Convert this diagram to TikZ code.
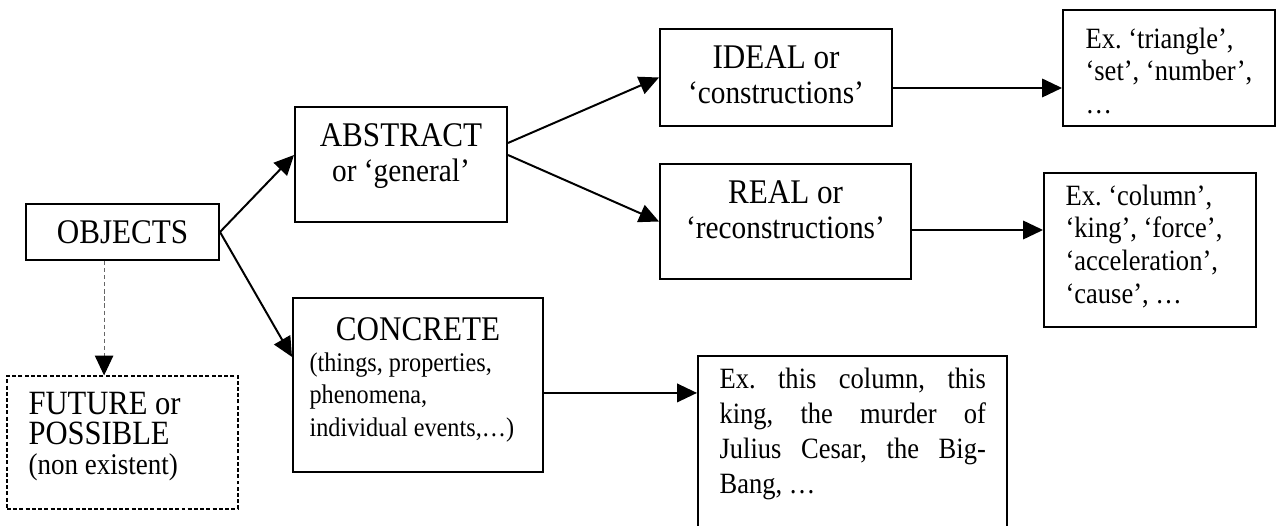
\documentclass[tikz,border=0pt]{standalone}
\usepackage{fontspec}
\setmainfont{Liberation Serif}[FakeStretch=0.9]
\usetikzlibrary{arrows.meta,fit}

\newcommand\bigtxt{\fontsize{12.2}{12.5}\selectfont}
\newcommand\subtxt{\fontsize{11.5}{12.5}\selectfont}
\newcommand\extxt{\fontsize{10.4}{11.6}\selectfont}
\newcommand\smalltxt{\fontsize{9.5}{11.5}\selectfont}
\frenchspacing

\tikzset{
  box/.style={draw, line width=0.7pt, inner sep=0pt},
  dashbox/.style={draw, line width=0.4pt, dash pattern=on 1.4pt off 0.8pt, inner sep=0pt},
  txt/.style={inner sep=0pt},
  arr/.style={line width=0.7pt, -{Triangle[length=7pt,width=6.5pt]}},
  dasharr/.style={line width=0.4pt, draw=black!60, dash pattern=on 1.5pt off 1pt,
    -{Triangle[length=7pt,width=6.5pt,black]}}
}

\begin{document}
\begin{tikzpicture}[x=0.353pt, y=-0.353pt]
\useasboundingbox (0,0) rectangle (1277,525);

% boxes
\node[box, fit={(26,204) (219,260)}] (obj) {};
\node[box, fit={(295,107) (507,222)}] (abs) {};
\node[box, fit={(293,298) (543,472)}] (conc) {};
\node[box, fit={(660,29) (892,126)}] (ideal) {};
\node[box, fit={(660,164) (911,279)}] (real) {};
\node[box, fit={(1063,10) (1275,126)}] (extri) {};
\node[box, fit={(1044,173) (1256,327)}] (excol) {};
\node[box, fit={(698,356) (1007,545)}] (exthis) {};
\node[dashbox, fit={(7,376) (238,509)}] (fut) {};

% texts
\node[txt, font=\bigtxt] (objtxt) at (122.5,232) {OBJECTS};
\node[txt, anchor=north, align=center, font=\bigtxt] (abstxt) at (401,123)
  {ABSTRACT\\{\subtxt or ‘general’}};
\node[txt, anchor=north, align=center, font=\bigtxt] (idealtxt) at (776,45)
  {IDEAL or\\{\subtxt ‘constructions’}};
\node[txt, anchor=north, align=center, font=\bigtxt] (realtxt) at (785.5,180)
  {REAL or\\{\subtxt ‘reconstructions’}};
\node[txt, anchor=north west, align=left, font=\extxt] (extritxt) at (1085,27)
  {Ex. ‘triangle’,\\‘set’, ‘number’,\\…};
\node[txt, anchor=north west, align=left, font=\extxt] (excoltxt) at (1065,184)
  {Ex. ‘column’,\\‘king’, ‘force’,\\‘acceleration’,\\‘cause’, …};
\node[txt, anchor=north west, align=left, font=\fontsize{10.4}{12.4}\selectfont] (exthistxt) at (719,367)
  {\makebox[94pt][s]{Ex. this column, this}\\
   \makebox[94pt][s]{king, the murder of}\\
   \makebox[94pt][s]{Julius Cesar, the Big-}\\
   Bang, …};
\node[txt, anchor=north, font=\bigtxt] (conctxt) at (418,317) {CONCRETE};
\node[txt, anchor=north west, align=left, font=\smalltxt] (concsub) at (309,352)
  {(things, properties,\\phenomena,\\individual events,…)};
\node[txt, anchor=north west, align=left, font=\fontsize{12}{10.6}\selectfont] (futtxt) at (28,392)
  {FUTURE or\\POSSIBLE\\{\fontsize{10.6}{10.6}\selectfont(non existent)}};

% connectors
\coordinate (ideal-out) at ([yshift=-3.7pt]ideal.east);
\coordinate (real-out) at ([yshift=-3pt]real.east);
\coordinate (conc-out) at ([yshift=-2.8pt]conc.east);
\coordinate (obj-out) at ([xshift=-6.5pt]obj.south);

\draw[arr] (obj.east) -- ([yshift=3.35pt]abs.west);
\draw[arr] (obj.east) -- ([yshift=9.9pt]conc.west);
\draw[arr] ([yshift=7.6pt]abs.east) -- (ideal.west);
\draw[arr] ([yshift=3.35pt]abs.east) -- (real.west);
\draw[arr] (ideal-out) -- (ideal-out -| extri.west);
\draw[arr] (real-out) -- (real-out -| excol.west);
\draw[arr] (conc-out) -- (conc-out -| exthis.west);
\draw[dasharr] (obj-out) -- (obj-out |- fut.north);
\end{tikzpicture}
\end{document}
